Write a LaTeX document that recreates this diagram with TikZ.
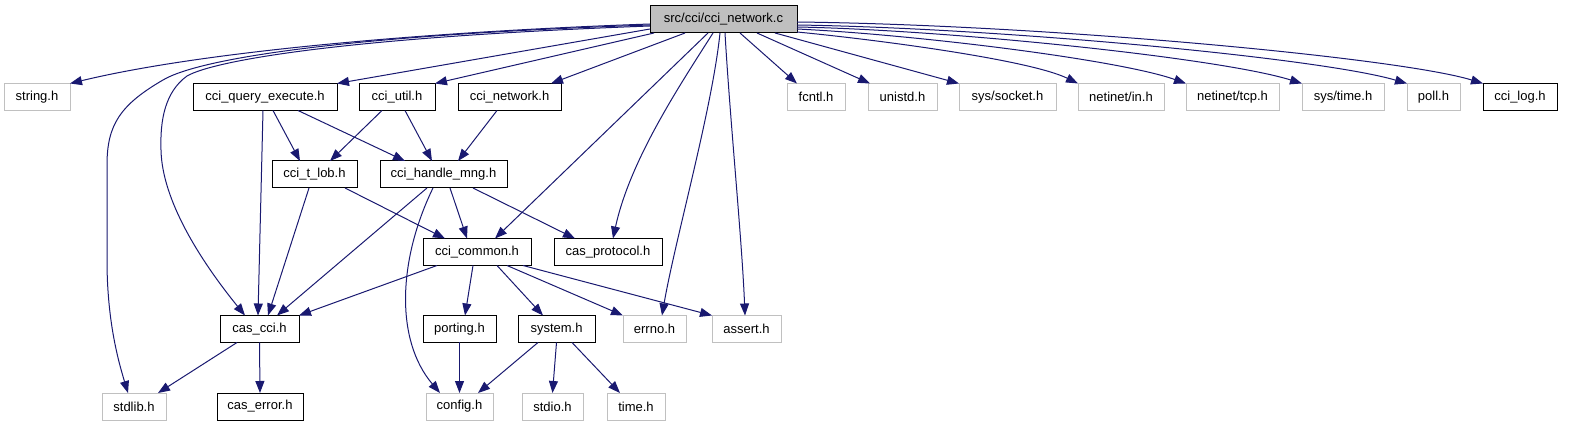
\documentclass[tikz,border=0pt]{standalone}
\usepackage{fontspec}
\setmainfont{Liberation Sans}
\usetikzlibrary{arrows.meta}
\definecolor{edgeblue}{HTML}{191970}
\definecolor{lgray}{HTML}{C0C0C0}
\definecolor{rootgray}{HTML}{BFBFBF}
\tikzset{
  box/.style={draw=black, line width=1pt, minimum height=27pt, inner sep=0pt, outer sep=0pt,
    font=\fontsize{13pt}{15pt}\selectfont, text=black},
  gbox/.style={box, draw=lgray},
  dep/.style={draw=edgeblue, line width=1pt, -{Triangle[length=12pt,width=9pt]}},
}
\begin{document}
\begin{tikzpicture}[x=1pt,y=-1pt]
\useasboundingbox (0,0) rectangle (1571,427);
% row 1
\node[box, fill=rootgray, minimum width=147pt] (root) at (723.5,19.5) {src/cci/cci\_network.c};
% row 2
\node[gbox, minimum width=66pt] (string) at (37,97) {string.h};
\node[box, minimum width=144pt] (cqe) at (265,97) {cci\_query\_execute.h};
\node[box, minimum width=76pt] (cutil) at (397,97) {cci\_util.h};
\node[box, minimum width=103pt] (cnet) at (509.5,97) {cci\_network.h};
\node[gbox, minimum width=58pt] (fcntl) at (816,97) {fcntl.h};
\node[gbox, minimum width=69pt] (unistd) at (902.5,97) {unistd.h};
\node[gbox, minimum width=97pt] (socket) at (1007.5,97) {sys/socket.h};
\node[gbox, minimum width=86pt] (netin) at (1121,97) {netinet/in.h};
\node[gbox, minimum width=93pt] (tcp) at (1232.5,97) {netinet/tcp.h};
\node[gbox, minimum width=82pt] (systime) at (1343,97) {sys/time.h};
\node[gbox, minimum width=53pt] (poll) at (1433.5,97) {poll.h};
\node[box, minimum width=74pt] (clog) at (1520,97) {cci\_log.h};
% row 3
\node[box, minimum width=85pt] (tlob) at (314.5,174.5) {cci\_t\_lob.h};
\node[box, minimum width=127pt] (hmng) at (443.5,174.5) {cci\_handle\_mng.h};
% row 4
\node[box, minimum width=108pt] (common) at (477,252) {cci\_common.h};
\node[box, minimum width=108pt] (protocol) at (608,252) {cas\_protocol.h};
% row 5
\node[box, minimum width=79pt] (cascci) at (259.5,329) {cas\_cci.h};
\node[box, minimum width=73pt] (porting) at (459.5,329) {porting.h};
\node[box, minimum width=77pt] (system) at (556.5,329) {system.h};
\node[gbox, minimum width=63pt] (errno) at (654.5,329) {errno.h};
\node[gbox, minimum width=69pt] (assert) at (746.5,329) {assert.h};
% row 6
\node[gbox, minimum width=64pt] (stdlib) at (134,406.5) {stdlib.h};
\node[box, minimum width=86pt] (caserr) at (260,406.5) {cas\_error.h};
\node[gbox, minimum width=67pt] (config) at (459.5,406.5) {config.h};
\node[gbox, minimum width=61pt] (stdio) at (552.5,406.5) {stdio.h};
\node[gbox, minimum width=58pt] (time) at (636,406.5) {time.h};

% edges from root
\draw[dep] ([yshift=-4.5pt]root.west) .. controls (420,32) and (200,52) .. (string.north east);
\draw[dep] ([yshift=-5.5pt]root.west) .. controls (350,35) and (200,58) .. (163,80)
   .. controls (120,105) and (107,125) .. (107,165) -- (107,260)
   .. controls (107,320) and (118,360) .. ([xshift=-6pt]stdlib.north);
\draw[dep] ([yshift=-6.5pt]root.west) .. controls (350,37) and (215,60) .. (187,76)
   .. controls (165,92) and (160,120) .. (161,150)
   .. controls (162,200) and (200,260) .. ([xshift=-14.5pt]cascci.north);
\draw[dep] ([yshift=-9.5pt]root.west) -- (cqe.north east);
\draw[dep] ([xshift=4pt]root.south west) -- (cutil.north east);
\draw[dep] ([xshift=-38.5pt]root.south) -- ([xshift=41.5pt]cnet.north);
\draw[dep] ([xshift=-15.5pt]root.south) -- ([xshift=18pt]common.north);
\draw[dep] ([xshift=-10.5pt]root.south) .. controls (680,85) and (630,160) .. ([xshift=5pt]protocol.north);
\draw[dep] ([xshift=-3.5pt]root.south) .. controls (712,110) and (675,240) .. ([xshift=7.5pt]errno.north);
\draw[dep] ([xshift=1.5pt]root.south) .. controls (730,120) and (742,240) .. ([xshift=-1.5pt]assert.north);
\draw[dep] ([xshift=16.5pt]root.south) -- ([xshift=-19pt]fcntl.north);
\draw[dep] ([xshift=33.5pt]root.south) -- ([xshift=-32.5pt]unistd.north);
\draw[dep] ([xshift=51.5pt]root.south) -- (socket.north west);
\draw[dep] ([yshift=-12.5pt]root.east) .. controls (880,40) and (1030,60) .. (netin.north west);
\draw[dep] ([yshift=-9.5pt]root.east) .. controls (920,35) and (1120,60) .. (tcp.north west);
\draw[dep] ([yshift=-7.5pt]root.east) .. controls (950,30) and (1220,58) .. (systime.north west);
\draw[dep] ([yshift=-5.5pt]root.east) .. controls (1000,28) and (1320,58) .. (poll.north west);
\draw[dep] ([yshift=-2.5pt]root.east) .. controls (1050,25) and (1400,58) .. (clog.north west);

% row 2 -> row 3
\draw[dep] ([xshift=-2pt]cqe.south) -- ([xshift=-1.5pt]cascci.north);
\draw[dep] ([xshift=8pt]cqe.south) -- ([xshift=-14.5pt]tlob.north);
\draw[dep] ([xshift=33pt]cqe.south) -- ([xshift=-38.5pt]hmng.north);
\draw[dep] ([xshift=-15pt]cutil.south) -- ([xshift=15.5pt]tlob.north);
\draw[dep] ([xshift=8pt]cutil.south) -- ([xshift=-11.5pt]hmng.north);
\draw[dep] ([xshift=-12.5pt]cnet.south) -- ([xshift=14.5pt]hmng.north);

% row 3
\draw[dep] ([xshift=-5.5pt]tlob.south) -- ([xshift=8.5pt]cascci.north);
\draw[dep] ([xshift=30.5pt]tlob.south) -- ([xshift=-32pt]common.north);
\draw[dep] ([xshift=-16.5pt]hmng.south) -- ([xshift=17.5pt]cascci.north);
\draw[dep] ([xshift=-10.5pt]hmng.south) .. controls (398,260) and (395,340) .. ([xshift=-19.5pt]config.north);
\draw[dep] ([xshift=6.5pt]hmng.south) -- ([xshift=-10pt]common.north);
\draw[dep] ([xshift=29.5pt]hmng.south) -- ([xshift=-33pt]protocol.north);

% row 4
\draw[dep] ([xshift=-40pt]common.south) -- (cascci.north east);
\draw[dep] ([xshift=-4pt]common.south) -- ([xshift=5.5pt]porting.north);
\draw[dep] ([xshift=20pt]common.south) -- ([xshift=-13.5pt]system.north);
\draw[dep] ([xshift=30pt]common.south) -- (errno.north west);
\draw[dep] ([xshift=46pt]common.south) -- (assert.north west);

% row 5
\draw[dep] ([xshift=-22.5pt]cascci.south) -- ([xshift=24pt]stdlib.north);
\draw[dep] (cascci.south) -- (caserr.north);
\draw[dep] (porting.south) -- (config.north);
\draw[dep] ([xshift=-18.5pt]system.south) -- ([xshift=18.5pt]config.north);
\draw[dep] (system.south) -- (stdio.north);
\draw[dep] ([xshift=15.5pt]system.south) -- ([xshift=-16pt]time.north);
\end{tikzpicture}
\end{document}
